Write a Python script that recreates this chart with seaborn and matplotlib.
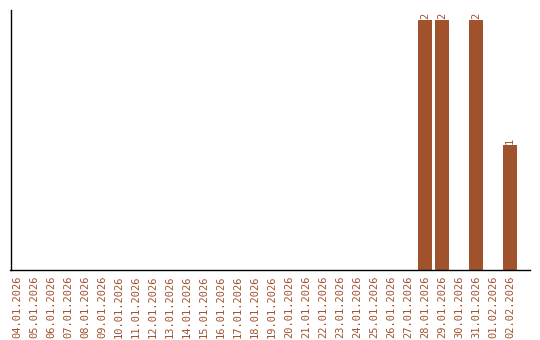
import matplotlib
matplotlib.use("Agg")
import matplotlib.pyplot as plt
import seaborn as sns
import pandas as pd

dates = ["04.01.2026", "05.01.2026", "06.01.2026", "07.01.2026", "08.01.2026",
         "09.01.2026", "10.01.2026", "11.01.2026", "12.01.2026", "13.01.2026",
         "14.01.2026", "15.01.2026", "16.01.2026", "17.01.2026", "18.01.2026",
         "19.01.2026", "20.01.2026", "21.01.2026", "22.01.2026", "23.01.2026",
         "24.01.2026", "25.01.2026", "26.01.2026", "27.01.2026", "28.01.2026",
         "29.01.2026", "30.01.2026", "31.01.2026", "01.02.2026", "02.02.2026"]
counts = [0, 0, 0, 0, 0, 0, 0, 0, 0, 0,
          0, 0, 0, 0, 0, 0, 0, 0, 0, 0,
          0, 0, 0, 0, 2, 2, 0, 2, 0, 1]

color = "#A0522D"
sns.set_style("white")
plt.rcParams['font.family'] = ['DejaVu Sans Mono', 'DejaVu Sans']

df = pd.DataFrame({"date": dates, "count": counts})
fig = plt.figure(figsize=(5.4, 3.4), dpi=100)
ax = fig.add_axes([10.5/540, 70/340, 519.5/540, 260/340])
sns.barplot(data=df, x="date", y="count", color=color, saturation=1, width=0.82,
            linewidth=0, ax=ax)

for i, v in enumerate(counts):
    if v > 0:
        ax.text(i, v + 0.01, str(v), rotation=90, ha="center", va="bottom",
                fontsize=7.5, color=color)

ax.set_xlim(-0.38, 30.18)
ax.set_ylim(0, 2.08)
ax.set_xlabel("")
ax.set_ylabel("")
ax.set_yticks([])
ax.tick_params(axis="x", length=0, pad=4, labelsize=7.5, labelcolor=color)
plt.setp(ax.get_xticklabels(), rotation=90)
sns.despine(ax=ax, top=True, right=True)
for s in ["left", "bottom"]:
    ax.spines[s].set_color("black")
    ax.spines[s].set_linewidth(1)

fig.savefig("out.png", dpi=100)
